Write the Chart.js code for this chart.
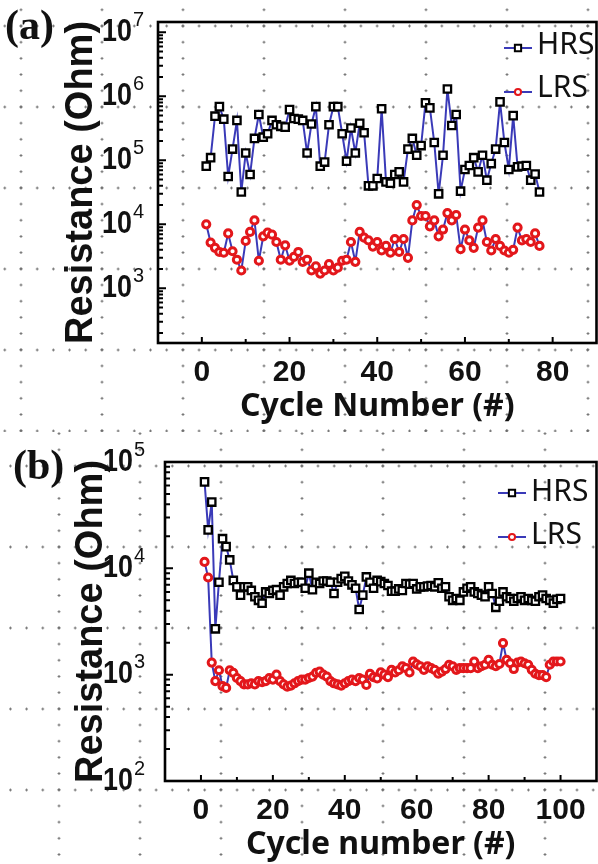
<!DOCTYPE html>
<html>
<head>
<meta charset="utf-8">
<script src="https://cdn.jsdelivr.net/npm/chart.js@4/dist/chart.umd.min.js"></script>
<style>
  html, body { margin: 0; padding: 0; background: #fff; }
  body { width: 598px; height: 864px; overflow: hidden; position: relative; }
  .panel {
    position: absolute; left: 0; width: 604px; height: 432px;
    /* dotted paper grid behind the figure */
    background-image:
      radial-gradient(circle at center, #666 0.9px, rgba(255,255,255,0) 1.4px),
      radial-gradient(circle at center, #666 0.9px, rgba(255,255,255,0) 1.4px);
    background-size: 16.2px 81px, 81px 16.2px;
  }
  #panelA { top: 0; background-position: 12.9px -14.5px, -19.5px 17.9px; }
  #panelB { top: 432px; background-position: 50.9px -6.5px, 18.5px 25.9px; }
</style>
</head>
<body>
<div class="panel" id="panelA"><canvas id="chartA" width="604" height="432"></canvas></div>
<div class="panel" id="panelB"><canvas id="chartB" width="604" height="432"></canvas></div>
<script>
'use strict';

// ---- data (a) ----
const hrsA = [
  8.1e4, 1.1e5, 4.9e5, 6.9e5, 4.4e5, 5.6e4, 1.5e5, 4.2e5, 3.2e4, 1.3e5,
  6.0e4, 2.2e5, 5.2e5, 2.3e5, 2.6e5, 4.2e5, 3.6e5, 3.4e5, 3.3e5, 6.2e5,
  4.5e5, 4.4e5, 4.2e5, 1.3e5, 3.7e5, 6.9e5, 8.1e4, 9.4e4, 3.6e5, 6.9e5,
  6.9e5, 2.6e5, 9.7e4, 3.2e5, 1.3e5, 3.8e5, 2.7e5, 4.0e4, 4.0e4, 5.2e4,
  6.4e5, 4.6e4, 4.4e4, 6.0e4, 6.6e4, 4.6e4, 1.5e5, 2.2e5, 1.2e5, 1.7e5,
  7.9e5, 6.6e5, 1.9e5, 3.0e4, 1.2e5, 1.3e6, 3.5e5, 5.2e5, 3.3e4, 7.2e4,
  8.3e4, 1.1e5, 6.6e4, 1.2e5, 4.9e4, 8.9e4, 1.5e5, 8.2e5, 1.9e5, 7.2e4,
  5.0e5, 7.9e4, 8.1e4, 8.3e4, 4.9e4, 6.1e4, 3.2e4
];
const lrsA = [
  1.0e4, 5.2e3, 4.3e3, 3.7e3, 3.6e3, 7.2e3, 3.8e3, 2.8e3, 1.9e3, 5.5e3,
  7.6e3, 1.15e4, 2.7e3, 6.5e3, 7.4e3, 6.9e3, 5.3e3, 2.8e3, 4.7e3, 2.7e3,
  3.1e3, 3.7e3, 2.6e3, 2.8e3, 1.9e3, 2.2e3, 1.7e3, 1.9e3, 2.4e3, 1.9e3,
  2.1e3, 2.7e3, 2.8e3, 5.3e3, 2.6e3, 7.6e3, 6.2e3, 5.6e3, 4.5e3, 5.3e3,
  3.9e3, 4.6e3, 3.6e3, 5.9e3, 3.7e3, 5.9e3, 3.0e3, 1.15e4, 2.0e4, 1.35e4,
  1.35e4, 9.3e3, 1.15e4, 6.5e3, 8.3e3, 1.5e4, 1.15e4, 1.4e4, 4.1e3, 8.3e3,
  5.6e3, 4.3e3, 8.9e3, 1.15e4, 5.3e3, 3.9e3, 5.9e3, 4.6e3, 3.9e3, 3.6e3,
  4.0e3, 8.9e3, 5.6e3, 5.9e3, 5.3e3, 7.2e3, 4.6e3
];

// ---- data (b) ----
const hrsB = [
  6.5e4, 2.3e4, 4.2e4, 2.7e3, 7.4e3, 1.9e4, 1.6e4, 1.2e4, 7.7e3, 6.7e3,
  5.6e3, 6.7e3, 6.7e3, 6.2e3, 5.4e3, 5.0e3, 4.7e3, 6.0e3, 5.8e3, 6.2e3,
  6.3e3, 5.6e3, 6.7e3, 7.2e3, 7.7e3, 7.2e3, 7.4e3, 7.4e3, 6.5e3, 9.0e3,
  6.3e3, 7.4e3, 7.2e3, 7.6e3, 7.6e3, 7.4e3, 5.8e3, 7.4e3, 8.0e3, 8.4e3,
  7.6e3, 7.0e3, 6.5e3, 4.1e3, 5.6e3, 8.3e3, 7.4e3, 6.5e3, 7.7e3, 7.5e3,
  7.2e3, 6.9e3, 6.1e3, 6.1e3, 6.4e3, 6.2e3, 7.2e3, 7.1e3, 7.2e3, 6.4e3,
  6.7e3, 6.7e3, 6.8e3, 6.9e3, 6.7e3, 7.3e3, 6.5e3, 6.7e3, 5.4e3, 5.0e3,
  5.2e3, 5.0e3, 6.0e3, 6.5e3, 6.7e3, 6.0e3, 5.8e3, 5.6e3, 5.4e3, 6.7e3,
  5.8e3, 4.3e3, 4.9e3, 6.0e3, 5.4e3, 5.2e3, 4.9e3, 5.2e3, 5.4e3, 5.0e3,
  5.2e3, 5.0e3, 4.9e3, 5.4e3, 5.6e3, 5.2e3, 5.0e3, 4.7e3, 5.1e3, 5.2e3
];
const lrsB = [
  1.15e4, 8.2e3, 1.3e3, 870, 1100, 780, 750, 1100, 1040, 930,
  870, 810, 810, 830, 810, 870, 850, 870, 930, 900,
  1000, 870, 810, 770, 790, 830, 870, 900, 900, 930,
  960, 1040, 1070, 1000, 960, 870, 830, 810, 790, 830,
  870, 900, 870, 930, 900, 800, 1020, 950, 920, 1050,
  1000, 950, 1110, 1050, 1100, 1200, 1150, 1050, 1330, 1250,
  1200, 1110, 1200, 1150, 1110, 1020, 1070, 1130, 1240, 1200,
  1110, 1150, 1150, 1150, 1150, 1330, 1150, 1200, 1240, 1380,
  1240, 1200, 1260, 1980, 1380, 1280, 1130, 1300, 1330, 1280,
  1240, 1110, 1020, 990, 990, 950, 1240, 1330, 1330, 1330
];

// ---- axes ----
const xTicksA = [0, 10, 20, 30, 40, 50, 60, 70, 80];
const xTicksB = [0, 10, 20, 30, 40, 50, 60, 70, 80, 90, 100];
const yDecadesA = [1e2, 1e3, 1e4, 1e5, 1e6, 1e7];
const yDecadesB = [1e2, 1e3, 1e4, 1e5];
const seriesNames = ['HRS', 'LRS'];

const LINE_BLUE = '#3a3ab8';

// decades plus the 2..9 minor marks of a log axis, clipped to the range
function logTicks(decades, min, max) {
  const out = [];
  decades.forEach((d) => {
    [1, 2, 3, 4, 5, 6, 7, 8, 9].forEach((m) => {
      const v = d * m;
      if (v >= min && v <= max) out.push({ value: v, major: m === 1 });
    });
  });
  return out;
}

function points(values) {
  return values.map((v, i) => ({ x: i + 1, y: v }));
}

// frame, inward ticks, 10^n labels, legend and panel letter
const panelDeco = {
  id: 'panelDeco',
  afterDraw(chart, args, opts) {
    const { ctx, chartArea: a } = chart;
    const xs = chart.scales.x;
    const ys = chart.scales.y;
    ctx.save();

    ctx.strokeStyle = '#000';
    ctx.lineWidth = 2;
    ctx.beginPath();
    xs.ticks.forEach((t) => {
      const px = xs.getPixelForValue(t.value);
      const len = t.value % 20 === 0 ? 6 : 4;
      ctx.moveTo(px, a.bottom);
      ctx.lineTo(px, a.bottom - len);
    });
    ys.ticks.forEach((t) => {
      const py = ys.getPixelForValue(t.value);
      const len = t.major ? 8 : 5;
      ctx.moveTo(a.left, py);
      ctx.lineTo(a.left + len, py);
    });
    ctx.stroke();

    ctx.lineWidth = 2.6;
    ctx.strokeRect(a.left, a.top, a.right - a.left, a.bottom - a.top);

    // y tick labels as 10 with a raised exponent
    ctx.fillStyle = '#111';
    ctx.textBaseline = 'middle';
    ys.ticks.filter((t) => t.major).forEach((t) => {
      const py = ys.getPixelForValue(t.value);
      const exp = Math.round(Math.log10(t.value));
      ctx.save();
      ctx.translate(opts.labelRight, py);
      ctx.scale(0.84, 1);
      ctx.font = 'bold 32px "Liberation Sans", Arial, sans-serif';
      ctx.textAlign = 'right';
      ctx.fillText('10', 0, 0);
      ctx.restore();
      ctx.font = '20px "Liberation Sans", Arial, sans-serif';
      ctx.textAlign = 'left';
      ctx.fillText(String(exp), opts.labelRight + 1, py - 12);
    });

    // legend: short blue line with the marker, then the name
    chart.data.datasets.forEach((ds, i) => {
      const ly = opts.legendY[i];
      ctx.strokeStyle = ds.borderColor;
      ctx.lineWidth = 2;
      ctx.beginPath();
      ctx.moveTo(opts.legendX - 14, ly);
      ctx.lineTo(opts.legendX + 14, ly);
      ctx.stroke();
      ctx.fillStyle = ds.pointBackgroundColor;
      ctx.strokeStyle = ds.pointBorderColor;
      Chart.helpers.drawPoint(ctx, {
        pointStyle: ds.pointStyle,
        radius: ds.pointRadius * 0.85,
        borderWidth: ds.pointBorderWidth,
        rotation: 0
      }, opts.legendX, ly);
      ctx.fillStyle = '#111';
      ctx.font = '30px "Noto Sans", sans-serif';
      ctx.textAlign = 'left';
      ctx.textBaseline = 'middle';
      ctx.fillText(ds.label, opts.legendX + 19, opts.legendTextY[i]);
    });

    ctx.fillStyle = '#111';
    ctx.font = 'bold 42px "Liberation Serif", "Times New Roman", serif';
    ctx.textAlign = 'left';
    ctx.textBaseline = 'middle';
    ctx.fillText(opts.letter, opts.letterX, opts.letterY);

    ctx.restore();
  }
};

function makeChart(canvasId, cfg) {
  const datasets = [
    {
      label: seriesNames[0],
      data: points(cfg.hrs),
      borderColor: LINE_BLUE,
      borderWidth: 2,
      pointStyle: 'rect',
      pointRadius: 5.2,
      pointBorderWidth: 2.3,
      pointBorderColor: '#000',
      pointBackgroundColor: '#fff'
    },
    {
      label: seriesNames[1],
      data: points(cfg.lrs),
      borderColor: LINE_BLUE,
      borderWidth: 2,
      pointStyle: 'circle',
      pointRadius: 3.6,
      pointBorderWidth: 3,
      pointBorderColor: '#e3171b',
      pointBackgroundColor: '#fff'
    }
  ];

  return new Chart(document.getElementById(canvasId), {
    type: 'line',
    data: { datasets },
    plugins: [panelDeco],
    options: {
      responsive: false,
      animation: false,
      devicePixelRatio: 1,
      layout: { padding: { top: cfg.top, right: 3, left: 0, bottom: 0 } },
      plugins: {
        legend: { display: false },
        tooltip: { enabled: false },
        panelDeco: cfg.deco
      },
      scales: {
        x: {
          type: 'linear',
          min: cfg.xMin,
          max: cfg.xMax,
          afterBuildTicks: (s) => { s.ticks = cfg.xTicks.map((v) => ({ value: v })); },
          afterFit: (s) => { s.height = cfg.xHeight; },
          grid: { display: false },
          border: { display: false },
          ticks: {
            autoSkip: false,
            maxRotation: 0,
            padding: cfg.xTickPad,
            color: '#111',
            font: { family: '"Liberation Sans", Arial, sans-serif', size: 30, weight: 'bold' },
            callback: (v) => (v % 20 === 0 ? String(v) : '')
          },
          title: {
            display: true,
            text: cfg.xTitle,
            color: '#111',
            font: { family: '"Noto Sans", sans-serif', size: 32, weight: 'bold', lineHeight: 1.2 },
            padding: { top: 0, bottom: cfg.xTitlePad }
          }
        },
        y: {
          type: 'logarithmic',
          min: cfg.yMin,
          max: cfg.yMax,
          afterBuildTicks: (s) => { s.ticks = logTicks(cfg.decades, cfg.yMin, cfg.yMax); },
          afterFit: (s) => { s.width = cfg.yWidth; },
          grid: { display: false },
          border: { display: false },
          ticks: { display: false },
          title: {
            display: true,
            text: 'Resistance (Ohm)',
            color: '#111',
            font: { family: '"Liberation Sans", Arial, sans-serif', size: 38, weight: 'bold', lineHeight: 1.2 },
            padding: { top: cfg.yTitlePad, bottom: 0 }
          }
        }
      }
    }
  });
}

makeChart('chartA', {
  hrs: hrsA, lrs: lrsA,
  xMin: -10, xMax: 90, xTicks: xTicksA,
  yMin: 140, yMax: 1.45e7, decades: yDecadesA,
  top: 22, yWidth: 158, xHeight: 89,
  xTickPad: 4, xTitlePad: 6, yTitlePad: 59,
  xTitle: 'Cycle Number (#)',
  deco: { labelRight: 132, legendX: 518, legendY: [48, 92], legendTextY: [45, 88],
          letter: '(a)', letterX: 5, letterY: 28 }
});

makeChart('chartB', {
  hrs: hrsB, lrs: lrsB,
  xMin: -10, xMax: 110, xTicks: xTicksB,
  yMin: 100, yMax: 1e5, decades: yDecadesB,
  top: 30, yWidth: 165, xHeight: 83,
  xTickPad: 4, xTitlePad: 0, yTitlePad: 69,
  xTitle: 'Cycle number (#)',
  deco: { labelRight: 133, legendX: 512, legendY: [61, 105], legendTextY: [60, 103],
          letter: '(b)', letterX: 13, letterY: 36 }
});
</script>
</body>
</html>
